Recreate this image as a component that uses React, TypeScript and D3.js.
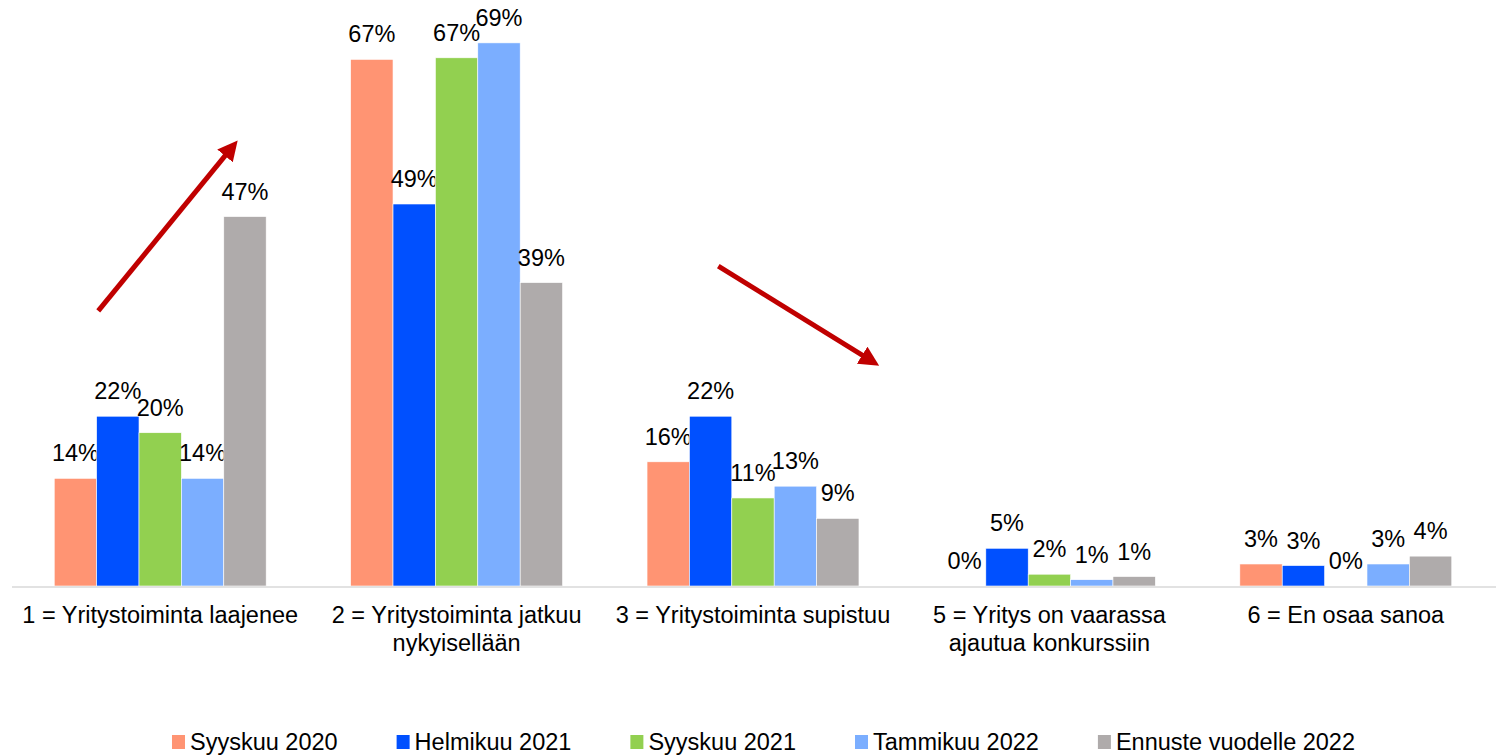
import React, { useEffect, useRef } from 'react';
import * as d3 from 'd3';

const width = 1501;
const height = 756;
const margin = { top: 35, right: 7, bottom: 170, left: 12 };
const font = '"Liberation Sans", Arial, sans-serif';
const fontSize = 23.5;

// categories (line breaks as in the original)
const categories = [
	['1 = Yritystoiminta laajenee'],
	['2 = Yritystoiminta jatkuu', 'nykyisellään'],
	['3 = Yritystoiminta supistuu'],
	['5 = Yritys on vaarassa', 'ajautua konkurssiin'],
	['6 = En osaa sanoa'],
];
const series = ['Syyskuu 2020', 'Helmikuu 2021', 'Syyskuu 2021', 'Tammikuu 2022', 'Ennuste vuodelle 2022'];
const colors = ['#FF9473', '#0050FF', '#92D050', '#7BAEFF', '#AFABAB'];

// values per series, in category order (percent)
const syyskuu2020 = [13.7, 67.0, 15.8, 0, 2.8];
const helmikuu2021 = [21.6, 48.6, 21.6, 4.8, 2.6];
const syyskuu2021 = [19.5, 67.2, 11.2, 1.5, 0];
const tammikuu2022 = [13.7, 69.1, 12.7, 0.8, 2.8];
const ennuste2022 = [47.0, 38.6, 8.6, 1.2, 3.8];
const values = [syyskuu2020, helmikuu2021, syyskuu2021, tammikuu2022, ennuste2022];

// trend arrows: [category index offset, value] from -> to
const arrows = [
	{ from: [-0.209, 35], to: [0.24, 55.7] },
	{ from: [1.883, 40.7], to: [2.397, 28.7] },
];

export default function App() {
	const legendRef = useRef<SVGGElement>(null);

	const catKeys = categories.map((c) => c.join(' '));
	const x0 = d3
		.scaleBand<string>()
		.domain(catKeys)
		.range([margin.left, width - margin.right])
		.paddingInner(0.285)
		.paddingOuter(0.1425);
	const x1 = d3.scaleBand<string>().domain(series).range([0, x0.bandwidth()]);
	const baseY = height - margin.bottom;
	const y = d3.scaleLinear().domain([0, 70]).range([baseY, baseY - 70 * 7.86]);

	// category position as continuous index (0 = centre of first group)
	const catX = (i: number) => x0(catKeys[0])! + x0.bandwidth() / 2 + i * x0.step();

	useEffect(() => {
		// lay out legend items centred, using real text widths
		const g = d3.select(legendRef.current);
		const items = g.selectAll<SVGGElement, unknown>('g.item').nodes();
		const widths = items.map((n) => {
			const t = n.querySelector('text') as SVGTextElement;
			return 18 + t.getComputedTextLength();
		});
		const gap = 59;
		const total = d3.sum(widths) + gap * (widths.length - 1);
		let cx = 763.5 - total / 2;
		items.forEach((n, i) => {
			n.setAttribute('transform', `translate(${cx},0)`);
			cx += widths[i] + gap;
		});
	}, []);

	return (
		<svg
			width={width}
			height={height}
			style={{ position: 'absolute', left: 0, top: 0, background: '#fff', fontFamily: font }}
		>
			<defs>
				<marker id="arrowHead" viewBox="0 0 10 10" refX="5" refY="5" markerWidth="4" markerHeight="4" orient="auto">
					<path d="M0,0 L10,5 L0,10 z" fill="#C00000" />
				</marker>
			</defs>
			{categories.map((cat, ci) => (
				<g key={ci} transform={`translate(${x0(catKeys[ci])},0)`}>
					{series.map((s, si) => {
						const v = values[si][ci];
						const bx = x1(s)!;
						return (
							<g key={s}>
								<rect
									x={bx}
									y={y(v)}
									width={x1.bandwidth()}
									height={baseY - y(v)}
									fill={colors[si]}
									stroke="#fff"
									strokeWidth={0.6}
								/>
								<text
									x={bx + x1.bandwidth() / 2}
									y={y(v) - 17}
									textAnchor="middle"
									fontSize={fontSize}
									fill="#000"
								>
									{Math.round(v)}%
								</text>
							</g>
						);
					})}
					<text x={x0.bandwidth() / 2} y={baseY + 37} textAnchor="middle" fontSize={fontSize} fill="#000">
						{cat.map((line, li) => (
							<tspan key={li} x={x0.bandwidth() / 2} dy={li === 0 ? 0 : 28}>
								{line}
							</tspan>
						))}
					</text>
				</g>
			))}
			<line x1={margin.left} x2={width - 5} y1={baseY + 1} y2={baseY + 1} stroke="#D9D9D9" strokeWidth={1.5} />
			{arrows.map((a, i) => (
				<line
					key={i}
					x1={catX(a.from[0])}
					y1={y(a.from[1])}
					x2={catX(a.to[0])}
					y2={y(a.to[1])}
					stroke="#C00000"
					strokeWidth={5}
					markerEnd="url(#arrowHead)"
				/>
			))}
			<g ref={legendRef} transform={`translate(0,${height - 14})`}>
				{series.map((s, i) => (
					<g className="item" key={s}>
						<rect x={0} y={-7} width={13} height={14} fill={colors[i]} />
						<text x={18} y={8} fontSize={fontSize} fill="#000">
							{s}
						</text>
					</g>
				))}
			</g>
		</svg>
	);
}
